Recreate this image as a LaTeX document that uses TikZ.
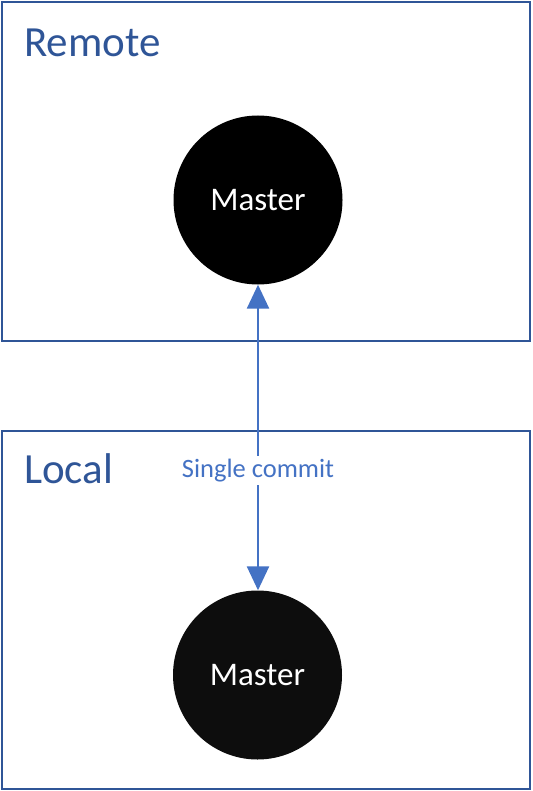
\documentclass[tikz,border=0pt]{standalone}
\usepackage{fontspec}
\setmainfont{Carlito}
\usetikzlibrary{arrows.meta}
\definecolor{boxblue}{HTML}{2F5597}
\definecolor{arrowblue}{HTML}{4472C4}
\begin{document}
\begin{tikzpicture}[x=1pt,y=-1pt,
  frame/.style={draw=boxblue,line width=2.4pt},
  title/.style={anchor=base west,inner sep=0pt,text=boxblue,font=\fontsize{43}{48}\selectfont},
  branch/.style={circle,fill=black,minimum size=169pt,inner sep=0pt,text=white,font=\fontsize{33}{38}\selectfont},
  link/.style={draw=arrowblue,line width=2.5pt,{Triangle[width=22pt,length=24pt]}-{Triangle[width=22pt,length=24pt]}},
  lbl/.style={fill=white,text=arrowblue,inner sep=3pt,font=\fontsize{26.5}{30}\selectfont}]
\useasboundingbox (0,0) rectangle (532,791);
\draw[frame] (2,2) rectangle (530,341);
\draw[frame] (2,431) rectangle (530,789);
\node[title] (remote) at (24,57) {Remote};
\node[title] (local) at (24,483) {Local};
\node[branch] (rm) at (258,200) {Master};
\node[branch,fill={rgb,255:red,13;green,13;blue,13}] (lm) at (257.5,675) {Master};
\draw[link] (rm.south) -- (rm.south |- lm.north) node[lbl,pos=0.607] (sc) {Single commit};
\end{tikzpicture}
\end{document}
